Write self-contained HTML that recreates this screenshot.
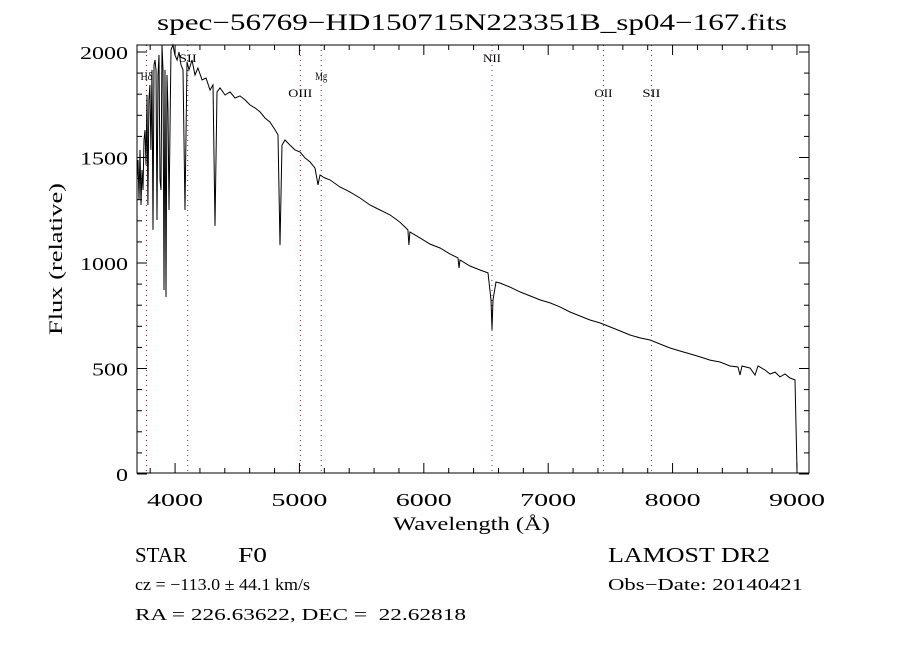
<!DOCTYPE html>
<html><head><meta charset="utf-8"><style>
html,body{margin:0;padding:0;background:#fff;}
svg{display:block;font-family:"Liberation Serif",serif;}
</style></head><body>
<svg width="900" height="650" viewBox="0 0 900 650">
<rect width="900" height="650" fill="#fff"/>
<g id="grid"></g>
<g id="axes"></g>
<path id="spec" fill="none" stroke="#000" stroke-width="1"/>
<text x="157" y="30" font-size="23" textLength="630" lengthAdjust="spacingAndGlyphs">spec−56769−HD150715N223351B_sp04−167.fits</text>
<text x="393" y="530" font-size="19" textLength="157" lengthAdjust="spacingAndGlyphs">Wavelength (Å)</text>
<text transform="translate(62,335) rotate(-90)" font-size="19" textLength="152" lengthAdjust="spacingAndGlyphs">Flux (relative)</text>
<text x="135" y="562" font-size="21" textLength="52" lengthAdjust="spacingAndGlyphs">STAR</text>
<text x="238" y="562" font-size="21" textLength="29" lengthAdjust="spacingAndGlyphs">F0</text>
<text x="608" y="562" font-size="21" textLength="162" lengthAdjust="spacingAndGlyphs">LAMOST DR2</text>
<text x="135" y="590" font-size="17" textLength="175" lengthAdjust="spacingAndGlyphs">cz = −113.0 ± 44.1 km/s</text>
<text x="608" y="590" font-size="17" textLength="195" lengthAdjust="spacingAndGlyphs">Obs−Date: 20140421</text>
<text x="135" y="620" font-size="17" textLength="331" lengthAdjust="spacingAndGlyphs">RA = 226.63622, DEC = &#160;22.62818</text>
</svg>
<script>
const wavelengths=[3694,3702,3710,3718,3726,3734,3742,3750,3758,3766,3774,3782,3790,3798,3806,3815,3823,3831,3839,3847,3855,3863,3871,3879,3887,3895,3903,3911,3919,3927,3935,3943,3951,3967,3983,3999,4016,4032,4048,4064,4080,4096,4112,4136,4160,4184,4217,4249,4281,4305,4321,4337,4361,4402,4442,4482,4522,4562,4603,4643,4683,4723,4763,4804,4828,4844,4860,4884,4924,4964,5005,5045,5085,5125,5149,5165,5205,5246,5326,5406,5487,5567,5648,5728,5808,5872,5880,5888,5969,6049,6130,6210,6275,6283,6291,6371,6452,6516,6540,6548,6556,6580,6612,6693,6773,6854,6934,7015,7095,7175,7256,7336,7416,7497,7577,7658,7738,7819,7899,7979,8060,8140,8221,8301,8381,8462,8526,8542,8558,8623,8663,8687,8743,8783,8824,8864,8904,8944,8984,9000];
const fluxes=[1394,1488,1299,1536,1275,1441,1346,1583,1630,1465,1796,1275,1773,1844,1536,1915,1157,1939,1962,1915,1204,1891,1986,1394,1346,2033,1915,872,1915,839,1891,1725,1251,2010,2033,1986,1962,2000,1939,1915,1251,1953,1915,1962,1891,1924,1868,1877,1820,1844,1176,1811,1830,1796,1811,1782,1792,1773,1749,1735,1716,1687,1668,1631,1607,1085,1559,1583,1559,1536,1526,1498,1479,1450,1370,1417,1403,1394,1360,1337,1308,1275,1251,1228,1194,1157,1085,1147,1119,1090,1071,1043,1024,976,1014,986,967,953,825,683,825,910,905,886,863,844,825,811,792,768,749,730,716,697,678,659,645,635,616,597,583,569,555,540,531,512,507,469,512,502,469,512,493,474,483,460,474,455,446,19];
const xTicks=[4000,5000,6000,7000,8000,9000];
const yTicks=[0,500,1000,1500,2000];
const lineWl=[3770,4102,5007,5175,6548,7444,7830];
const lineLabels=[{t:"Hδ",w:3770,y:80},{t:"SII",w:4102,y:62},{t:"OIII",w:5007,y:97},{t:"Mg",w:5175,y:80},{t:"NII",w:6548,y:62},{t:"OII",w:7444,y:97},{t:"SII",w:7830,y:97}];

const L=137,R=809,T=45,B=473;
const x=w=>L+(w-3694)*0.12438;
const y=f=>474-f*0.211;
const NS="http://www.w3.org/2000/svg";
function mk(tag,at,parent){const e=document.createElementNS(NS,tag);for(const k in at)e.setAttribute(k,at[k]);parent.appendChild(e);return e;}
const ax=document.getElementById('axes'),gr=document.getElementById('grid');

lineWl.forEach(w=>{const l=mk('line',{x1:x(w),x2:x(w),y1:T,y2:B,stroke:'#8b2020','stroke-width':1,'stroke-dasharray':'1,4'},gr);

});
lineLabels.forEach(o=>{const wd=o.t.length*6;const t=mk('text',{x:x(o.w)-wd/2,y:o.y,'font-size':12,textLength:wd,lengthAdjust:'spacingAndGlyphs'},gr);t.textContent=o.t;

});

const fr=mk('rect',{x:L,y:T,width:R-L,height:B-T,fill:'none',stroke:'#000','stroke-width':1},ax);


for(let w=3800;w<=9100;w+=200){const major=w%1000===0;const len=major?10:5;
mk('line',{x1:x(w),x2:x(w),y1:B,y2:B-len,stroke:'#000'},ax);mk('line',{x1:x(w),x2:x(w),y1:T,y2:T+len,stroke:'#000'},ax);}
for(let f=0;f<=2000;f+=100){const major=f%500===0;const len=major?10:5;
mk('line',{x1:L,x2:L+len,y1:y(f),y2:y(f),stroke:'#000'},ax);mk('line',{x1:R,x2:R-len,y1:y(f),y2:y(f),stroke:'#000'},ax);}
xTicks.forEach(w=>{const t=mk('text',{x:x(w)-28,y:506,'font-size':18,textLength:56,lengthAdjust:'spacingAndGlyphs'},ax);t.textContent=w;

});
yTicks.forEach(f=>{const s=String(f);const wd=s.length*12;const t=mk('text',{x:128-wd,y:y(f)+7,'font-size':18,textLength:wd,lengthAdjust:'spacingAndGlyphs'},ax);t.textContent=s;

});

document.getElementById('spec').setAttribute('d',wavelengths.map((w,i)=>(i?'L':'M')+x(w).toFixed(1)+','+y(fluxes[i]).toFixed(1)).join(''));
</script>
</body></html>
